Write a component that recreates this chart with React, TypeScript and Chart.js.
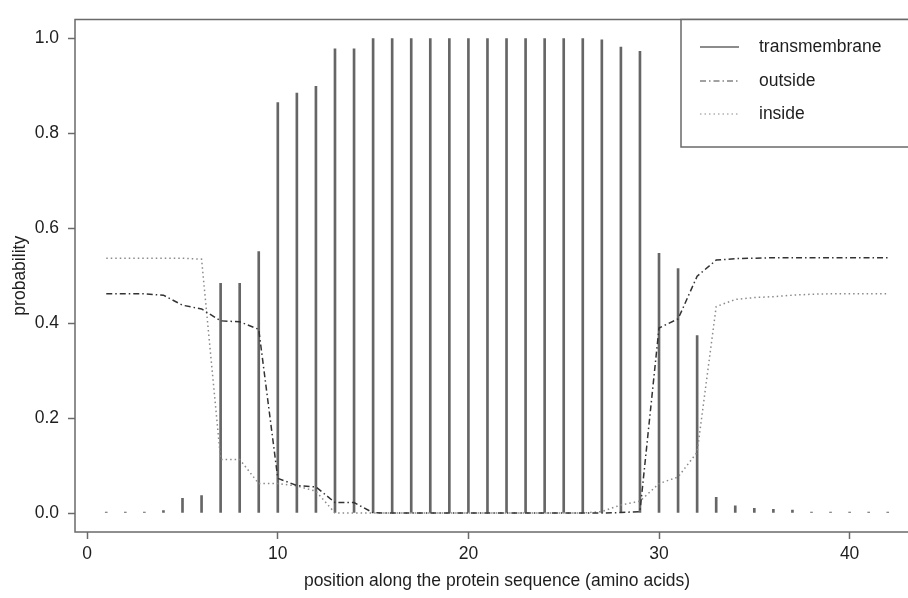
import React, { useEffect, useRef } from "react";
import { Chart, registerables } from "chart.js";

Chart.register(...registerables);

// ---- data ----
const positions = [
  1, 2, 3, 4, 5, 6, 7, 8, 9, 10, 11, 12, 13, 14, 15, 16, 17, 18, 19, 20, 21,
  22, 23, 24, 25, 26, 27, 28, 29, 30, 31, 32, 33, 34, 35, 36, 37, 38, 39, 40, 41, 42,
];

const transmembrane = [
  0.002, 0.002, 0.002, 0.005, 0.031, 0.037, 0.484, 0.484, 0.551, 0.865, 0.885,
  0.899, 0.978, 0.978, 1.0, 1.0, 1.0, 1.0, 1.0, 1.0, 1.0, 1.0, 1.0, 1.0, 1.0,
  1.0, 0.997, 0.982, 0.973, 0.547, 0.515, 0.374, 0.033, 0.015, 0.01, 0.008,
  0.006, 0.002, 0.002, 0.002, 0.002, 0.002,
];

const outside = [
  0.462, 0.462, 0.462, 0.459, 0.438, 0.43, 0.405, 0.403, 0.387, 0.073, 0.058,
  0.055, 0.022, 0.022, 0.0005, 0.0, 0.0, 0.0, 0.0, 0.0, 0.0, 0.0, 0.0, 0.0,
  0.0, 0.0, 0.0, 0.001, 0.003, 0.39, 0.409, 0.499, 0.533, 0.536, 0.537, 0.538,
  0.538, 0.538, 0.538, 0.538, 0.538, 0.538,
];

const inside = [
  0.537, 0.537, 0.537, 0.537, 0.537, 0.535, 0.113, 0.113, 0.062, 0.062, 0.057,
  0.046, 0.0, 0.0, 0.0, 0.0, 0.0, 0.0, 0.0, 0.0, 0.0, 0.0, 0.0, 0.0, 0.0, 0.0,
  0.003, 0.017, 0.025, 0.062, 0.076, 0.128, 0.435, 0.45, 0.454, 0.456, 0.459,
  0.461, 0.462, 0.462, 0.462, 0.462,
];

const seriesLabels = ["transmembrane", "outside", "inside"];
const xTicks = [0, 10, 20, 30, 40];
const yTicks = [0, 0.2, 0.4, 0.6, 0.8, 1.0];
const xTitle = "position along the protein sequence (amino acids)";
const yTitle = "probability";

const FONT_FAMILY = "'Liberation Sans', Arial, Helvetica, sans-serif";
const FONT_SIZE = 17.5;
const TEXT = "#1e1e1e";
const AXIS = "#6a6a6a";

export default function App() {
  const ref = useRef<HTMLCanvasElement | null>(null);

  useEffect(() => {
    const canvas = ref.current;
    if (!canvas) return;

    const framePlugin = {
      id: "frameBox",
      afterDraw(chart: any) {
        const { ctx, chartArea } = chart;
        ctx.save();
        ctx.strokeStyle = AXIS;
        ctx.lineWidth = 1.5;
        ctx.strokeRect(
          chartArea.left,
          chartArea.top,
          chartArea.right - chartArea.left,
          chartArea.bottom - chartArea.top
        );
        ctx.restore();
      },
    };

    const legendPlugin = {
      id: "legendBox",
      afterDraw(chart: any) {
        const { ctx, chartArea } = chart;
        const boxLeft = 681;
        const boxBottom = 147;
        ctx.save();
        ctx.fillStyle = "#ffffff";
        ctx.fillRect(boxLeft, chartArea.top, chartArea.right - boxLeft, boxBottom - chartArea.top);
        ctx.strokeStyle = AXIS;
        ctx.lineWidth = 1.5;
        ctx.strokeRect(boxLeft, chartArea.top, chartArea.right - boxLeft, boxBottom - chartArea.top);
        const rows = [47, 81, 114];
        chart.data.datasets.forEach((ds: any, i: number) => {
          const y = rows[i];
          ctx.beginPath();
          ctx.strokeStyle = ds.legendColor;
          ctx.lineWidth = ds.legendWidth;
          ctx.setLineDash(ds.borderDash || []);
          ctx.moveTo(700, y);
          ctx.lineTo(739, y);
          ctx.stroke();
          ctx.setLineDash([]);
          ctx.fillStyle = TEXT;
          ctx.font = `${FONT_SIZE}px ${FONT_FAMILY}`;
          ctx.textBaseline = "middle";
          ctx.textAlign = "left";
          ctx.fillText(ds.label, 759, y);
        });
        ctx.restore();
      },
    };

    const font = { family: FONT_FAMILY, size: FONT_SIZE };

    const chart = new Chart(canvas, {
      type: "bar",
      data: {
        datasets: [
          {
            type: "bar",
            label: seriesLabels[0],
            data: positions.map((x, i) => ({ x, y: transmembrane[i] })),
            backgroundColor: "#666666",
            borderWidth: 0,
            barThickness: 2,
            order: 3,
            legendColor: "#666666",
            legendWidth: 1.6,
          } as any,
          {
            type: "line",
            label: seriesLabels[1],
            data: positions.map((x, i) => ({ x, y: outside[i] })),
            borderColor: "#333333",
            borderWidth: 1.5,
            borderDash: [6, 3, 1.5, 3],
            pointRadius: 0,
            tension: 0,
            fill: false,
            order: 1,
            legendColor: "#444444",
            legendWidth: 1.2,
          } as any,
          {
            type: "line",
            label: seriesLabels[2],
            data: positions.map((x, i) => ({ x, y: inside[i] })),
            borderColor: "#8a8a8a",
            borderWidth: 1.5,
            borderDash: [1.5, 3],
            pointRadius: 0,
            tension: 0,
            fill: false,
            order: 2,
            legendColor: "#8a8a8a",
            legendWidth: 1.2,
          } as any,
        ],
      },
      options: {
        animation: false,
        responsive: false,
        maintainAspectRatio: false,
        layout: { padding: { top: 13.6, right: 11, left: 0, bottom: 0 } },
        plugins: {
          legend: { display: false },
          tooltip: { enabled: false },
        },
        scales: {
          x: {
            type: "linear",
            min: -0.64,
            max: 43.64,
            offset: false,
            grid: {
              display: true,
              offset: false,
              drawOnChartArea: false,
              drawTicks: true,
              tickLength: 7,
              color: AXIS,
              tickColor: AXIS,
              tickWidth: 1.5,
            },
            border: { display: false },
            ticks: {
              padding: 5,
              font,
              color: TEXT,
              maxRotation: 0,
              minRotation: 0,
              autoSkip: false,
              callback: (v: any) => String(v),
            },
            afterBuildTicks: (s: any) => {
              s.ticks = xTicks.map((v) => ({ value: v }));
            },
            afterFit: (s: any) => {
              s.height = 66;
            },
            title: {
              display: true,
              text: xTitle,
              font,
              color: TEXT,
              padding: { top: 0, bottom: 6 },
            },
          } as any,
          y: {
            type: "linear",
            min: -0.04,
            max: 1.04,
            grid: {
              display: true,
              drawOnChartArea: false,
              drawTicks: true,
              tickLength: 7,
              color: AXIS,
              tickColor: AXIS,
              tickWidth: 1.5,
            },
            border: { display: false },
            ticks: {
              padding: 9,
              font,
              color: TEXT,
              autoSkip: false,
              callback: (v: any) => Number(v).toFixed(1),
            },
            afterBuildTicks: (s: any) => {
              s.ticks = yTicks.map((v) => ({ value: v }));
            },
            afterFit: (s: any) => {
              s.width = 75;
            },
            title: {
              display: true,
              text: yTitle,
              font,
              color: TEXT,
              padding: { top: 10, bottom: 0 },
            },
          } as any,
        },
      },
      plugins: [framePlugin, legendPlugin],
    });

    return () => chart.destroy();
  }, []);

  return (
    <div
      style={{
        position: "fixed",
        left: 0,
        top: 0,
        width: 908,
        height: 598,
        overflow: "hidden",
        background: "#ffffff",
      }}
    >
      <canvas ref={ref} width={930} height={598} style={{ display: "block", width: 930, height: 598 }} />
    </div>
  );
}
